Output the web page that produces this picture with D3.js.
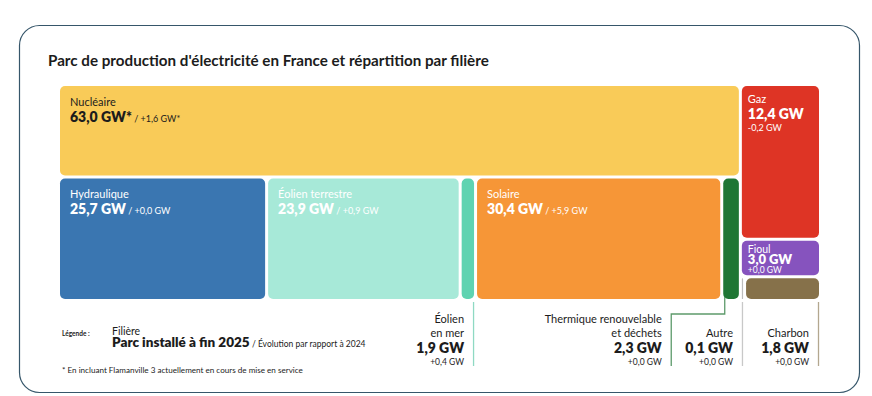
<!DOCTYPE html>
<html>
<head>
<meta charset="utf-8">
<script src="https://cdn.jsdelivr.net/npm/d3@7"></script>
<style>
  html, body { margin: 0; padding: 0; background: #ffffff; }
  svg { display: block; font-family: Lato, "Open Sans", sans-serif; }
</style>
</head>
<body>
<svg id="chart" width="872" height="396"></svg>
<script>
// ---- Data ----
const title = "Parc de production d'électricité en France et répartition par filière";
const categories = ["Nucléaire", "Hydraulique", "Éolien terrestre", "Éolien en mer", "Solaire",
  "Thermique renouvelable et déchets", "Gaz", "Fioul", "Autre", "Charbon"];
const capacity2025 = [63.0, 25.7, 23.9, 1.9, 30.4, 2.3, 12.4, 3.0, 0.1, 1.8];   // GW
const change2024 = [1.6, 0.0, 0.9, 0.4, 5.9, 0.0, -0.2, 0.0, 0.0, 0.0];          // GW
const asterisk = ["*", "", "", "", "", "", "", "", "", ""];
const colors = ["#F9CB58", "#3A76B1", "#A7E9D8", "#5FD3B1", "#F69637",
  "#1F7634", "#DE3425", "#8653BE", "#BDBDBD", "#86714A"];
const belowNames = {"Éolien en mer": ["Éolien", "en mer"],
  "Thermique renouvelable et déchets": ["Thermique renouvelable", "et déchets"],
  "Autre": ["Autre"], "Charbon": ["Charbon"]};
const lineColors = {"Éolien en mer": "#8fd9c3", "Thermique renouvelable et déchets": "#5d9a6b",
  "Autre": "#c8c8c8", "Charbon": "#b3a78f"};
// Grouping of the treemap (alternating horizontal / vertical splits)
const layoutGroups = [
  [["Nucléaire"], ["Hydraulique", "Éolien terrestre", "Éolien en mer", "Solaire", "Thermique renouvelable et déchets"]],
  [["Gaz"], ["Fioul"], ["Autre", "Charbon"]]
];

// ---- Helpers ----
const fr = d3.formatLocale({decimal: ",", thousands: " ", grouping: [3], currency: ["", " €"], minus: "-"});
const fmt = fr.format(".1f");
const fmtSigned = fr.format("+.1f");

const leaf = name => {
  const i = categories.indexOf(name);
  return {name, value: capacity2025[i], change: change2024[i], star: asterisk[i], color: colors[i]};
};
const tree = {name: "root", children: layoutGroups.map((g, gi) => ({
  name: "g" + gi,
  children: g.map((row, ri) => row.length === 1 ? leaf(row[0]) : ({name: "r" + gi + ri, children: row.map(leaf)}))
}))};

const svg = d3.select("#chart");

// Card
svg.append("rect").attr("x", 19.5).attr("y", 25.5).attr("width", 840).attr("height", 367)
  .attr("rx", 20).attr("fill", "#fff").attr("stroke", "#36566a").attr("stroke-width", 1.2);

svg.append("text").attr("x", 48).attr("y", 66).attr("font-size", 15.2).attr("font-weight", 700)
  .attr("fill", "#1c1c1c").text(title);

// Treemap
const X0 = 60, Y0 = 86, W = 759, H = 213;
const root = d3.hierarchy(tree).sum(d => d.children ? 0 : d.value);
d3.treemap().tile(d3.treemapSliceDice).size([W, H]).paddingInner(3)(root);

const g = svg.append("g").attr("transform", `translate(${X0},${Y0})`);
const leaves = root.leaves();

g.selectAll("rect.tile").data(leaves).join("rect").attr("class", "tile")
  .attr("x", d => d.x0).attr("y", d => d.y0)
  .attr("width", d => Math.max(1, d.x1 - d.x0)).attr("height", d => d.y1 - d.y0)
  .attr("rx", d => Math.min(5, (d.x1 - d.x0) / 2)).attr("fill", d => d.data.color);

// Inline labels (large tiles)
const inline = ["Nucléaire", "Hydraulique", "Éolien terrestre", "Solaire"];
leaves.filter(d => inline.includes(d.data.name)).forEach(d => {
  const col = d.data.name === "Nucléaire" ? "#1c1c1c" : "#ffffff";
  g.append("text").attr("x", d.x0 + 10).attr("y", d.y0 + 20).attr("font-size", 11)
    .attr("fill", col).text(d.data.name);
  const t = g.append("text").attr("x", d.x0 + 10).attr("y", d.y0 + 36).attr("fill", col);
  t.append("tspan").attr("font-size", 14).attr("font-weight", 800).text(fmt(d.data.value) + " GW" + d.data.star);
  t.append("tspan").attr("font-size", 9).text(" / " + fmtSigned(d.data.change) + " GW" + d.data.star);
});

// Stacked labels (right column)
const stacked = {"Gaz": [17, 33, 45, 11, 14, 9], "Fioul": [12, 23.5, 32, 10.5, 13, 8.5]};
leaves.filter(d => stacked[d.data.name]).forEach(d => {
  const o = stacked[d.data.name];
  g.append("text").attr("x", d.x0 + 6).attr("y", d.y0 + o[0]).attr("font-size", o[3])
    .attr("fill", "#fff").text(d.data.name);
  g.append("text").attr("x", d.x0 + 6).attr("y", d.y0 + o[1]).attr("font-size", o[4])
    .attr("font-weight", 800).attr("fill", "#fff").text(fmt(d.data.value) + " GW");
  g.append("text").attr("x", d.x0 + 6).attr("y", d.y0 + o[2]).attr("font-size", o[5])
    .attr("fill", "#fff").text(fmtSigned(d.data.change) + " GW");
});

// Labels below with leader lines
const yEnd = 366 - Y0;
leaves.filter(d => belowNames[d.data.name]).forEach(d => {
  const name = d.data.name;
  let lx, path;
  if (name === "Thermique renouvelable et déchets") {
    const sx = d.x0 + 1.5;
    lx = sx - 53.5;
    path = `M${sx},${d.y1 - 2}V${d.y1 + 15}H${lx}V${yEnd}`;
  } else if (name === "Autre") {
    lx = (d.x0 + d.x1) / 2;
    path = `M${lx},${d.y1 + 3}V${yEnd}`;
  } else {
    lx = d.x1 - 0.5;
    path = `M${lx},${d.y1 + 3}V${yEnd}`;
  }
  g.append("path").attr("d", path).attr("fill", "none")
    .attr("stroke", lineColors[name]).attr("stroke-width", 1.3);
  const tx = lx - 9.5;
  const lines = belowNames[name];
  lines.forEach((ln, i) => {
    g.append("text").attr("x", tx).attr("y", 337 - Y0 - (lines.length - 1 - i) * 14)
      .attr("text-anchor", "end").attr("font-size", 11).attr("fill", "#1c1c1c").text(ln);
  });
  g.append("text").attr("x", tx).attr("y", 353 - Y0).attr("text-anchor", "end")
    .attr("font-size", 14).attr("font-weight", 800).attr("fill", "#1c1c1c").text(fmt(d.data.value) + " GW");
  g.append("text").attr("x", tx).attr("y", 364.5 - Y0).attr("text-anchor", "end")
    .attr("font-size", 8.5).attr("fill", "#1c1c1c").text(fmtSigned(d.data.change) + " GW");
});

// Legend
svg.append("text").attr("x", 62).attr("y", 336).attr("font-size", 6.5).attr("font-weight", 700)
  .attr("fill", "#1c1c1c").text("Légende :");
svg.append("text").attr("x", 112).attr("y", 334.5).attr("font-size", 10.5).attr("fill", "#1c1c1c").text("Filière");
const lg = svg.append("text").attr("x", 112).attr("y", 347).attr("fill", "#1c1c1c");
lg.append("tspan").attr("font-size", 13.5).attr("font-weight", 800).text("Parc installé à fin 2025");
lg.append("tspan").attr("font-size", 8.5).text(" / Évolution par rapport à 2024");
svg.append("text").attr("x", 62).attr("y", 373).attr("font-size", 8.1).attr("fill", "#1c1c1c")
  .text("* En incluant Flamanville 3 actuellement en cours de mise en service");
</script>
</body>
</html>
